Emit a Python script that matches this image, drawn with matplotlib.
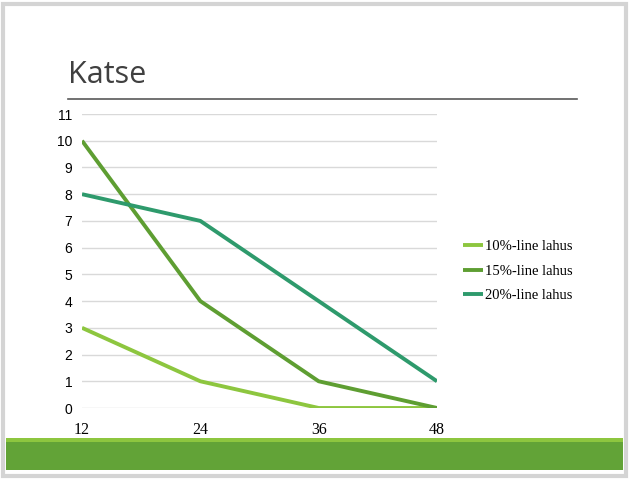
import matplotlib
matplotlib.use("Agg")
import matplotlib.pyplot as plt
from matplotlib.patches import Rectangle
from matplotlib.lines import Line2D

x_values = [12, 24, 36, 48]
series_names = ["10%-line lahus", "15%-line lahus", "20%-line lahus"]
s10 = [3, 1, 0, 0]
s15 = [10, 4, 1, 0]
s20 = [8, 7, 4, 1]
y_ticks = list(range(0, 12))
colors = ["#8DC63F", "#5E9E32", "#2E9A6C"]

W, H = 630, 479
fig = plt.figure(figsize=(W / 100, H / 100), dpi=100)
fig.patch.set_facecolor("white")

def fx(px):
    return px / W

def fy(py):
    return 1 - py / H

# slide frame
fig.add_artist(Rectangle((fx(3), fy(476)), fx(623), fy(4) - fy(476),
                         transform=fig.transFigure, fill=False, edgecolor="#d4d4d4", lw=3))
# green band
fig.add_artist(Rectangle((fx(6), fy(470)), fx(617), fy(441) - fy(470),
                         transform=fig.transFigure, facecolor="#62A337", edgecolor="none"))
fig.add_artist(Rectangle((fx(6), fy(442)), fx(617), fy(438) - fy(442),
                         transform=fig.transFigure, facecolor="#8DC63F", edgecolor="none"))

# title and rule
fig.text(fx(68), fy(75), "Katse", fontsize=22, family="Open Sans", color="#404040", va="center", ha="left")
fig.add_artist(Line2D([fx(68), fx(577)], [fy(99), fy(99)], transform=fig.transFigure, color="#595959", lw=1.2))

ax = fig.add_axes([fx(82), fy(408), fx(437) - fx(82), fy(114) - fy(408)])
for vals, name, c in zip([s10, s15, s20], series_names, colors):
    ax.plot(x_values, vals, color=c, lw=2.8, label=name, solid_capstyle="butt")

ax.set_xlim(12, 48)
ax.set_ylim(0, 11)
ax.set_yticks(y_ticks)
ax.set_xticks(x_values)
ax.set_xticklabels([str(v) for v in x_values], family="Liberation Serif", fontsize=11.5)
ax.set_yticklabels([str(v) for v in y_ticks], family="Liberation Sans", fontsize=10)
ax.tick_params(length=0, pad=7)
ax.tick_params(axis="x", pad=10)
for s in ax.spines.values():
    s.set_visible(False)
ax.grid(axis="y", color="#d9d9d9", lw=1)
ax.set_axisbelow(True)

leg = ax.legend(loc="center left", frameon=False,
                prop={"family": "Liberation Serif", "size": 10.5},
                handlelength=1.4, handletextpad=0.1, labelspacing=0.75, borderaxespad=0)
leg.set_bbox_to_anchor((fx(457), fy(271)), transform=fig.transFigure)

fig.savefig("out.png", dpi=100, facecolor="white")
